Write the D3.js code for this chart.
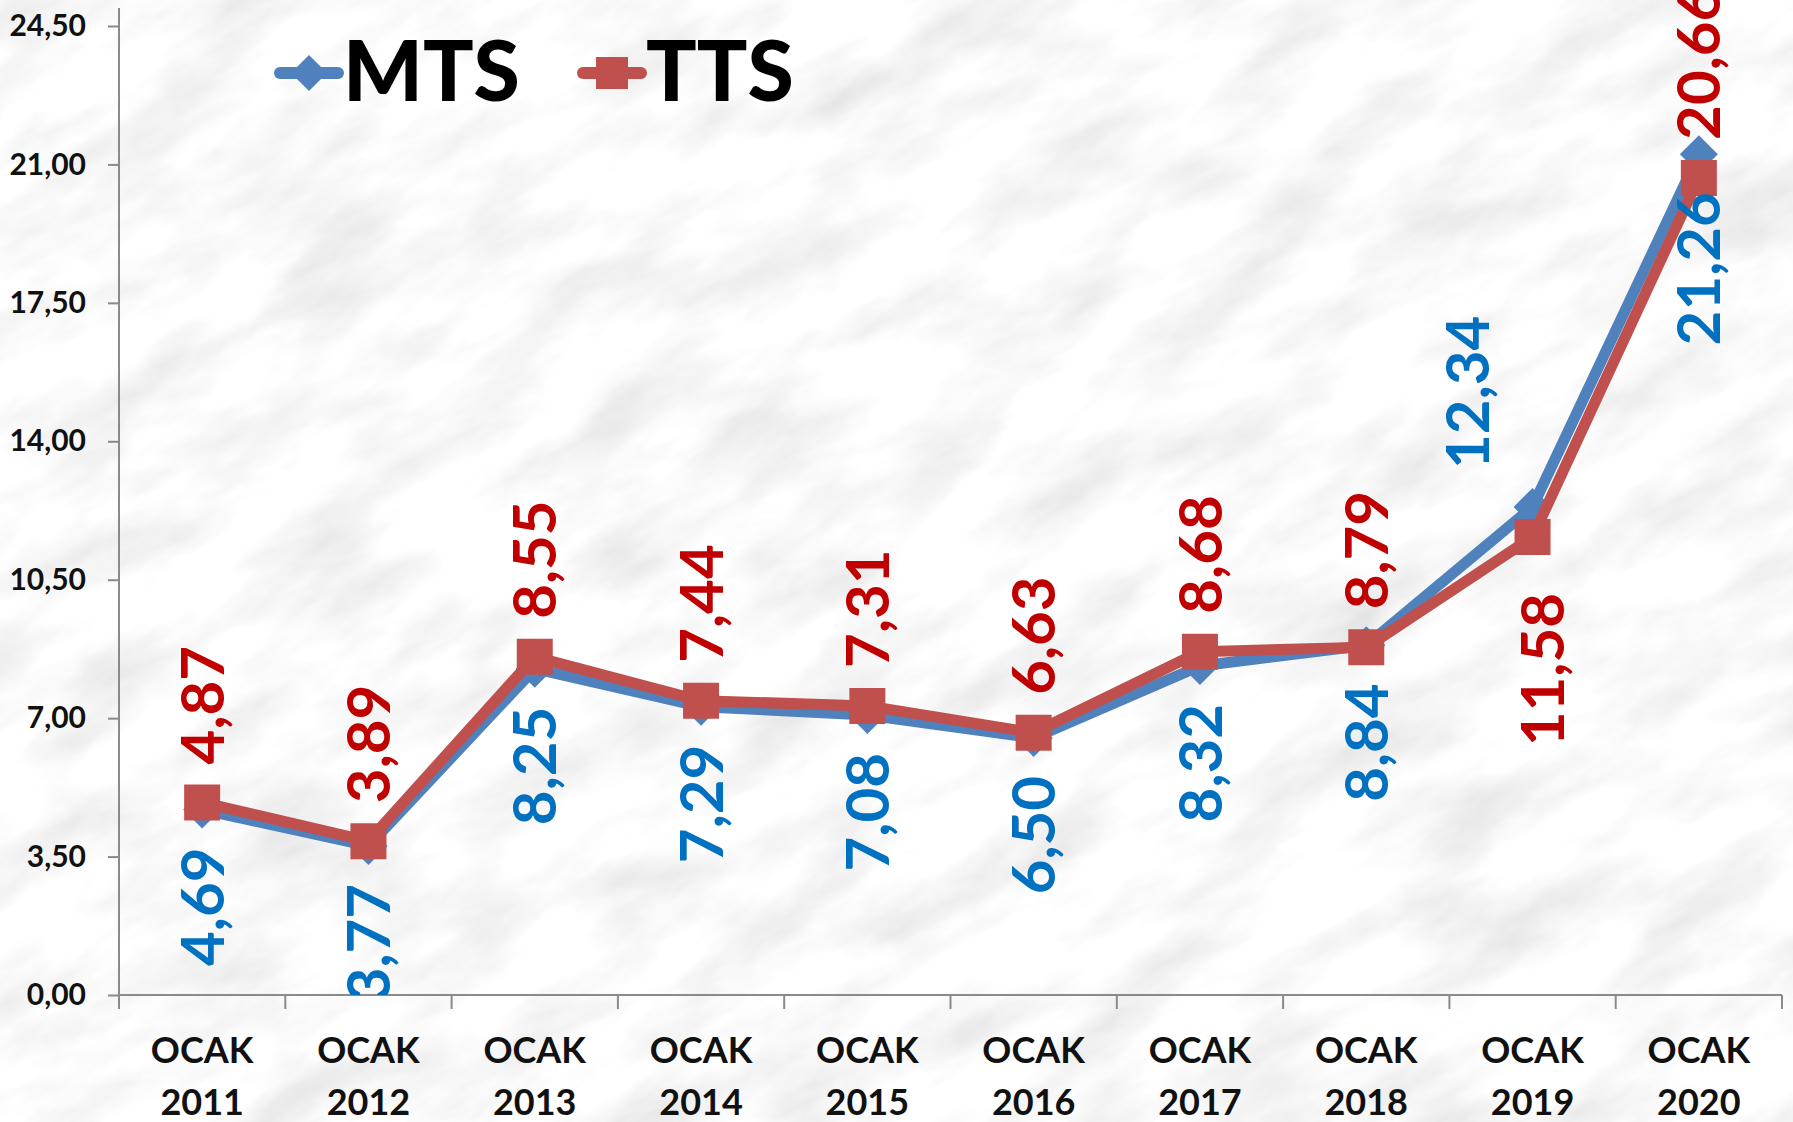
<!DOCTYPE html>
<html>
<head>
<meta charset="utf-8">
<script src="https://cdn.jsdelivr.net/npm/d3@7"></script>
<style>
  html, body { margin: 0; padding: 0; background: #f4f4f4; overflow: hidden; }
  svg { display: block; }
</style>
</head>
<body>
<svg id="chart" width="1793" height="1122"></svg>
<script>
// Categories (month + year) and the two series
const categories = ["OCAK 2011", "OCAK 2012", "OCAK 2013", "OCAK 2014", "OCAK 2015",
                    "OCAK 2016", "OCAK 2017", "OCAK 2018", "OCAK 2019", "OCAK 2020"];
const mtsValues = [4.69, 3.77, 8.25, 7.29, 7.08, 6.50, 8.32, 8.84, 12.34, 21.26];
const ttsValues = [4.87, 3.89, 8.55, 7.44, 7.31, 6.63, 8.68, 8.79, 11.58, 20.66];
// Which side of the point each value label sits on
const mtsLabelSide = ["below", "below", "below", "below", "below", "below", "below", "below", "above", "below"];
const ttsLabelSide = ["above", "above", "above", "above", "above", "above", "above", "above", "below", "above"];
const yTicks = [0, 3.5, 7, 10.5, 14, 17.5, 21, 24.5];
const seriesNames = ["MTS", "TTS"];

const W = 1793, H = 1122;
const plot = { left: 119, right: 1782, top: 8, bottom: 995 };
const FONT = "Lato, 'Open Sans', sans-serif";
const LABEL_GAP = 38;
// Hand-placed label shifts (pixels) for the crowded 2019 pair
const labelNudge = { "MTS-8": [-65, 0], "TTS-8": [10, 18] };

const svg = d3.select("#chart");
const defs = svg.append("defs");

// Marble-like paper texture with soft diagonal veining
const f = defs.append("filter").attr("id", "marble")
  .attr("x", 0).attr("y", 0).attr("width", "100%").attr("height", "100%");
f.append("feTurbulence").attr("type", "fractalNoise")
  .attr("baseFrequency", "0.007 0.017").attr("numOctaves", 5).attr("seed", 11).attr("result", "n");
f.append("feColorMatrix").attr("in", "n").attr("type", "matrix")
  .attr("values", "0.42 0 0 0 0.75  0.42 0 0 0 0.75  0.42 0 0 0 0.75  0 0 0 0 1");
svg.append("rect").attr("width", W).attr("height", H).attr("fill", "#f4f4f4");
svg.append("g").attr("transform", `translate(${W / 2},${H / 2}) rotate(-28)`)
  .append("rect").attr("x", -1400).attr("y", -1400).attr("width", 2800).attr("height", 2800)
  .attr("filter", "url(#marble)");

defs.append("clipPath").attr("id", "plotClip")
  .append("rect").attr("x", 0).attr("y", -200).attr("width", W).attr("height", plot.bottom + 200);

const trLocale = d3.formatLocale({ decimal: ",", thousands: ".", grouping: [3], currency: ["", ""] });
const fmt = trLocale.format(".2f");

const x = d3.scaleBand().domain(categories).range([plot.left, plot.right]).padding(0);
const y = d3.scaleLinear().domain([0, 24.5]).range([plot.bottom, 26]);
const cx = c => x(c) + x.bandwidth() / 2;

const axisColor = "#8a8a8a";

// Y axis
const yAxis = d3.axisLeft(y).tickValues(yTicks).tickSize(11).tickPadding(22)
  .tickFormat(fmt).tickSizeOuter(0);
const gy = svg.append("g").attr("transform", `translate(${plot.left},0)`).call(yAxis);
gy.select(".domain").remove();
gy.selectAll(".tick line").attr("stroke", axisColor).attr("stroke-width", 2);
gy.selectAll(".tick text").attr("font-family", FONT).attr("font-weight", 700)
  .attr("font-size", 30).attr("fill", "#111");
svg.append("line").attr("x1", plot.left).attr("x2", plot.left)
  .attr("y1", plot.top).attr("y2", plot.bottom).attr("stroke", axisColor).attr("stroke-width", 2);

// X axis with ticks at category boundaries
svg.append("line").attr("x1", plot.left).attr("x2", plot.right)
  .attr("y1", plot.bottom).attr("y2", plot.bottom).attr("stroke", axisColor).attr("stroke-width", 2);
const bounds = categories.map(c => x(c)).concat([plot.right]);
svg.append("g").selectAll("line").data(bounds).join("line")
  .attr("x1", d => d).attr("x2", d => d)
  .attr("y1", plot.bottom).attr("y2", plot.bottom + 14)
  .attr("stroke", axisColor).attr("stroke-width", 2);
const catText = svg.append("g").selectAll("text").data(categories).join("text")
  .attr("text-anchor", "middle").attr("font-family", FONT).attr("font-weight", 700)
  .attr("font-size", 36).attr("fill", "#111");
catText.each(function (d) {
  const parts = d.split(" ");
  const t = d3.select(this);
  t.append("tspan").attr("x", cx(d)).attr("y", 1063).text(parts[0]);
  t.append("tspan").attr("x", cx(d)).attr("y", 1115).text(parts[1]);
});

// Series
const series = [
  { name: seriesNames[0], values: mtsValues, side: mtsLabelSide, line: "#4F81BD", label: "#0070C0", marker: "diamond", width: 11 },
  { name: seriesNames[1], values: ttsValues, side: ttsLabelSide, line: "#C0504D", label: "#C00000", marker: "square", width: 11 }
];

const diamond = (px, py, r) => `M${px},${py - r}L${px + r},${py}L${px},${py + r}L${px - r},${py}Z`;
const square = (px, py, r) => `M${px - r},${py - r}h${2 * r}v${2 * r}h${-2 * r}Z`;

const line = d3.line().x((d, i) => cx(categories[i])).y(d => y(d));

series.forEach(s => {
  const g = svg.append("g");
  g.append("path").datum(s.values).attr("d", line).attr("fill", "none")
    .attr("stroke", s.line).attr("stroke-width", s.width).attr("stroke-linejoin", "round");
  g.selectAll("path.mk").data(s.values).join("path").attr("class", "mk")
    .attr("d", (d, i) => s.marker === "diamond" ? diamond(cx(categories[i]), y(d), 19) : square(cx(categories[i]), y(d), 18))
    .attr("fill", s.line);
});

// Value labels, rotated, clipped at the category axis
const labels = svg.append("g").attr("clip-path", "url(#plotClip)");
series.forEach(s => {
  labels.selectAll(null).data(s.values).join("text")
    .attr("transform", (d, i) => {
      const [nx, ny] = labelNudge[`${s.name}-${i}`] || [0, 0];
      const py = y(d) + (s.side[i] === "above" ? -LABEL_GAP : LABEL_GAP) + ny;
      return `translate(${cx(categories[i]) + nx},${py}) rotate(-90)`;
    })
    .attr("text-anchor", (d, i) => s.side[i] === "above" ? "start" : "end")
    .attr("dy", "0.36em")
    .attr("font-family", FONT).attr("font-weight", 700).attr("font-size", 60)
    .attr("fill", s.label)
    .text(d => fmt(d));
});

// Legend
const legend = [
  { s: series[0], x0: 280, tx: 343 },
  { s: series[1], x0: 583, tx: 646 }
];
legend.forEach(l => {
  const g = svg.append("g");
  g.append("line").attr("x1", l.x0).attr("x2", l.x0 + 58).attr("y1", 73).attr("y2", 73)
    .attr("stroke", l.s.line).attr("stroke-width", 12).attr("stroke-linecap", "round");
  g.append("path").attr("d", l.s.marker === "diamond" ? diamond(l.x0 + 29, 73, 18) : square(l.x0 + 29, 73, 16))
    .attr("fill", l.s.line);
  g.append("text").attr("x", l.tx).attr("y", 101).attr("font-family", FONT).attr("font-weight", 900)
    .attr("font-size", 84).attr("fill", "#000").text(l.s.name);
});
</script>
</body>
</html>
